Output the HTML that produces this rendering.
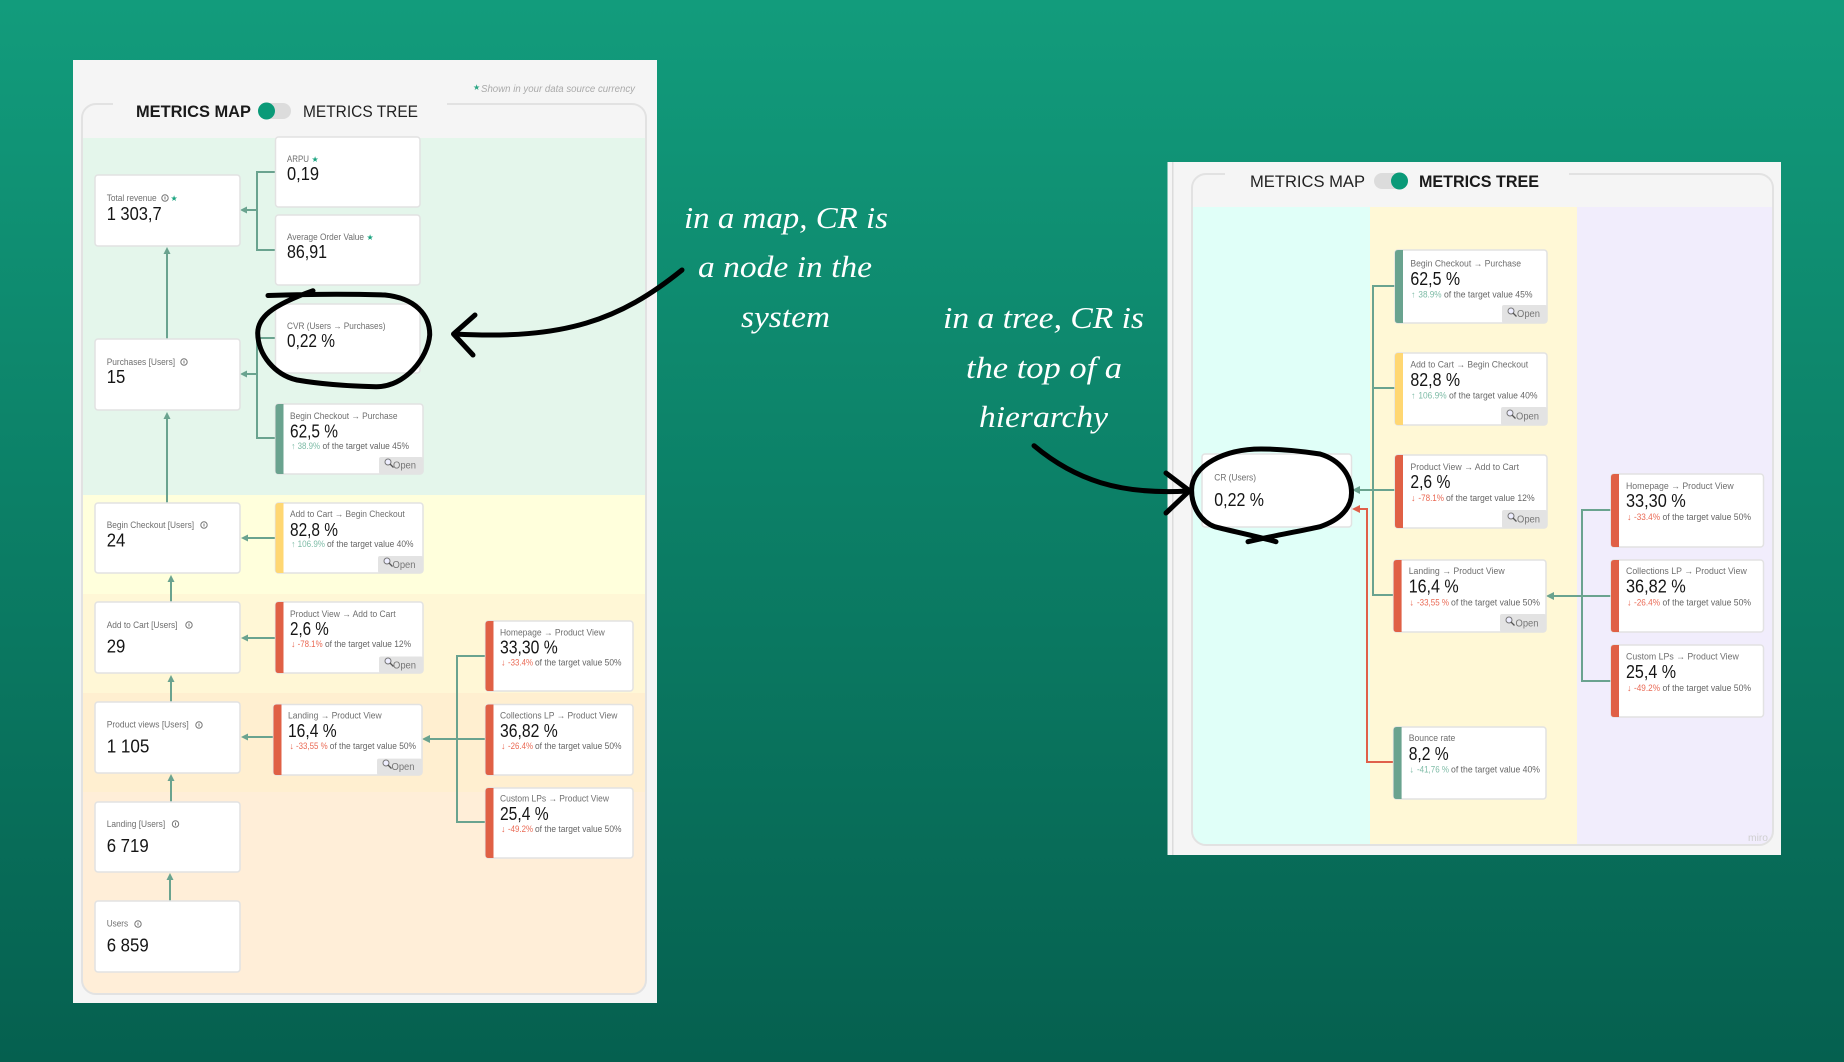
<!DOCTYPE html>
<html lang="en"><head><meta charset="utf-8"><title>Metrics map vs metrics tree</title>
<style>
html,body{margin:0;padding:0;width:1844px;height:1062px;overflow:hidden;background:#0b7f66}
svg{display:block;position:absolute;left:0;top:0}
text{font-family:"Liberation Sans",sans-serif}
.p{filter:blur(.35px)}
.l{font-size:9px;fill:#6f6f6f}
.v{font-size:18px;fill:#151515}
.s{font-size:9px;fill:#666}
.g{font-size:9px;fill:#7dbba6}
.r{font-size:9px;fill:#ea6a55}
.o{font-size:10.5px;fill:#777}
.st{font-size:8px;fill:#1aa37f}
.c{fill:#fff;stroke:#e2e2e2;stroke-width:1.5}
.ln{fill:none;stroke:#6aa38f;stroke-width:2}
.rd{fill:none;stroke:#e0604a;stroke-width:2}
.ah{fill:#6aa38f}
.bk{fill:none;stroke:#000;stroke-width:5;stroke-linecap:round;stroke-linejoin:round}
.h{font-family:"Liberation Serif",serif;font-style:italic;font-size:31px;fill:#fff}
.m{font-size:17px;fill:#222}
.mb{font-size:17px;fill:#1a1a1a;font-weight:bold}
.btn{fill:#e3e3e3}
</style></head><body>
<svg width="1844" height="1062" viewBox="0 0 1844 1062" xmlns="http://www.w3.org/2000/svg">
<defs>
<linearGradient id="bg" x1="0" y1="0" x2="0" y2="1"><stop offset="0" stop-color="#129c7c"/><stop offset="1" stop-color="#05604f"/></linearGradient>
<clipPath id="cpL"><rect x="82" y="104" width="564" height="890" rx="14"/></clipPath>
<clipPath id="cpR"><rect x="1192" y="174" width="581" height="671" rx="14"/></clipPath>
<g id="inf"><circle cx="0" cy="0" r="3.2" fill="none" stroke="#777" stroke-width="1"/><path d="M0-1.5V1.5" stroke="#777" stroke-width="1"/></g>
<g id="mag"><circle cx="0" cy="0" r="3" fill="#eef" stroke="#777" stroke-width="1"/><path d="M2 2L5.5 5.5" stroke="#555" stroke-width="1.3"/></g>
</defs>
<rect width="1844" height="1062" fill="url(#bg)"/>

<!-- LEFT PANEL -->
<g class="p">
<rect x="73" y="60" width="584" height="943" fill="#f5f5f5"/>
<rect x="82" y="104" width="564" height="890" rx="14" fill="#f5f5f5"/>
<g clip-path="url(#cpL)">
<rect x="82" y="138" width="564" height="357" fill="#e4f6eb"/>
<rect x="82" y="495" width="564" height="99" fill="#ffffdc"/>
<rect x="82" y="594" width="564" height="99" fill="#fff7d6"/>
<rect x="82" y="693" width="564" height="99" fill="#ffefd0"/>
<rect x="82" y="792" width="564" height="202" fill="#ffeed8"/>
</g>
<rect x="82" y="104" width="564" height="890" rx="14" fill="none" stroke="#e2e2e2" stroke-width="2"/>
<rect x="113" y="96" width="334" height="30" fill="#f5f5f5"/>
<text x="473" y="90" font-size="8" fill="#2aa583">★</text>
<text x="481" y="92" font-size="10" font-style="italic" fill="#aaa" textLength="154" lengthAdjust="spacingAndGlyphs">Shown in your data source currency</text>
<text class="mb" x="136" y="117" textLength="115" lengthAdjust="spacingAndGlyphs">METRICS MAP</text>
<rect x="260" y="103" width="31" height="16" rx="8" fill="#dcdcdc"/>
<circle cx="266.500" cy="111" r="8.500" fill="#0a9a78"/>
<text class="m" x="303" y="117" textLength="115" lengthAdjust="spacingAndGlyphs">METRICS TREE</text>

<!-- connectors -->
<path class="ln" d="M275 172H257V250H275M257 210H245"/><polygon class="ah" points="240,210 247,206.500 247,213.500"/>
<path class="ln" d="M275 338H257V438H275M257 374H245"/><polygon class="ah" points="240,374 247,370.500 247,377.500"/>
<path class="ln" d="M167 339V252"/><polygon class="ah" points="167,247 163.500,254 170.500,254"/>
<path class="ln" d="M167 503V417"/><polygon class="ah" points="167,412 163.500,419 170.500,419"/>
<path class="ln" d="M171 602V580"/><polygon class="ah" points="171,575 167.500,582 174.500,582"/>
<path class="ln" d="M171 702V680"/><polygon class="ah" points="171,675 167.500,682 174.500,682"/>
<path class="ln" d="M171 802V779"/><polygon class="ah" points="171,774 167.500,781 174.500,781"/>
<path class="ln" d="M170 901V878"/><polygon class="ah" points="170,873 166.500,880 173.500,880"/>
<path class="ln" d="M275 538H246"/><polygon class="ah" points="241,538 248,534.500 248,541.500"/>
<path class="ln" d="M275 638H246"/><polygon class="ah" points="241,638 248,634.500 248,641.500"/>
<path class="ln" d="M273 737H246"/><polygon class="ah" points="241,737 248,733.500 248,740.500"/>
<path class="ln" d="M485 656H457V822H485M485 739H427"/><polygon class="ah" points="422,739 430,735 430,743"/>

<!-- plain cards -->
<rect class="c" x="275.500" y="137" width="144.500" height="70" rx="3"/>
<text class="l" x="287" y="162" textLength="22" lengthAdjust="spacingAndGlyphs">ARPU</text><text class="st" x="311.500" y="162">★</text>
<text class="v" x="287" y="180" textLength="32" lengthAdjust="spacingAndGlyphs">0,19</text>

<rect class="c" x="95" y="175" width="145" height="71" rx="3"/>
<text class="l" x="106.700" y="201" textLength="50" lengthAdjust="spacingAndGlyphs">Total revenue</text><use href="#inf" x="165" y="198"/><text class="st" x="170.500" y="201">★</text>
<text class="v" x="106.700" y="220" textLength="55" lengthAdjust="spacingAndGlyphs">1 303,7</text>

<rect class="c" x="275.500" y="215" width="144.500" height="70" rx="3"/>
<text class="l" x="287" y="240" textLength="77" lengthAdjust="spacingAndGlyphs">Average Order Value</text><text class="st" x="366.500" y="240">★</text>
<text class="v" x="287" y="258" textLength="40" lengthAdjust="spacingAndGlyphs">86,91</text>

<rect class="c" x="275.500" y="304" width="144.500" height="69" rx="3"/>
<text class="l" x="287" y="329" textLength="98.500" lengthAdjust="spacingAndGlyphs">CVR (Users → Purchases)</text>
<text class="v" x="287" y="347" textLength="48" lengthAdjust="spacingAndGlyphs">0,22 %</text>

<rect class="c" x="95" y="339" width="145" height="71" rx="3"/>
<text class="l" x="106.700" y="365" textLength="68.400" lengthAdjust="spacingAndGlyphs">Purchases [Users]</text><use href="#inf" x="184" y="362"/>
<text class="v" x="106.700" y="383" textLength="18.600" lengthAdjust="spacingAndGlyphs">15</text>

<rect class="c" x="95" y="503" width="145" height="70" rx="3"/>
<text class="l" x="106.700" y="528" textLength="87.400" lengthAdjust="spacingAndGlyphs">Begin Checkout [Users]</text><use href="#inf" x="204" y="525"/>
<text class="v" x="106.700" y="546.500" textLength="18.600" lengthAdjust="spacingAndGlyphs">24</text>

<rect class="c" x="95" y="602" width="145" height="71" rx="3"/>
<text class="l" x="106.700" y="628" textLength="70.800" lengthAdjust="spacingAndGlyphs">Add to Cart [Users]</text><use href="#inf" x="189" y="625"/>
<text class="v" x="106.700" y="652.400" textLength="18.600" lengthAdjust="spacingAndGlyphs">29</text>

<rect class="c" x="95" y="702" width="145" height="71" rx="3"/>
<text class="l" x="106.700" y="727.600" textLength="82" lengthAdjust="spacingAndGlyphs">Product views [Users]</text><use href="#inf" x="199" y="725"/>
<text class="v" x="106.700" y="752.400" textLength="42.700" lengthAdjust="spacingAndGlyphs">1 105</text>

<rect class="c" x="95" y="802" width="145" height="70" rx="3"/>
<text class="l" x="106.700" y="827" textLength="58.500" lengthAdjust="spacingAndGlyphs">Landing [Users]</text><use href="#inf" x="175.500" y="824"/>
<text class="v" x="106.700" y="852" textLength="42" lengthAdjust="spacingAndGlyphs">6 719</text>

<rect class="c" x="95" y="901" width="145" height="71" rx="3"/>
<text class="l" x="106.700" y="926.500" textLength="21.400" lengthAdjust="spacingAndGlyphs">Users</text><use href="#inf" x="138" y="924"/>
<text class="v" x="106.700" y="951.700" textLength="42" lengthAdjust="spacingAndGlyphs">6 859</text>

<!-- Begin Checkout -> Purchase -->
<rect class="c" x="275.500" y="404" width="147.500" height="70" rx="3"/><path d="M283.500 404H278.500Q275.500 404 275.500 407V471Q275.500 474 278.500 474H283.500Z" fill="#6aa38f"/>
<text class="l" x="290" y="419" textLength="107.500" lengthAdjust="spacingAndGlyphs">Begin Checkout → Purchase</text>
<text class="v" x="290" y="437.700" textLength="48" lengthAdjust="spacingAndGlyphs">62,5 %</text>
<text class="g" x="291" y="449">↑</text>
<text class="g" x="297.600" y="449" textLength="22.400" lengthAdjust="spacingAndGlyphs">38.9%</text>
<text class="s" x="322.500" y="449" textLength="86.500" lengthAdjust="spacingAndGlyphs">of the target value 45%</text>
<rect class="btn" x="379" y="457" width="44" height="17" rx="2"/><use href="#mag" x="388" y="462"/><text class="o" x="393" y="468.700" textLength="23" lengthAdjust="spacingAndGlyphs">Open</text>

<!-- Add to Cart -> Begin Checkout -->
<rect class="c" x="275.500" y="503" width="147.500" height="70" rx="3"/><path d="M283.500 503H278.500Q275.500 503 275.500 506V570Q275.500 573 278.500 573H283.500Z" fill="#ffd772"/>
<text class="l" x="290" y="517" textLength="114.700" lengthAdjust="spacingAndGlyphs">Add to Cart → Begin Checkout</text>
<text class="v" x="290" y="536" textLength="48" lengthAdjust="spacingAndGlyphs">82,8 %</text>
<text class="g" x="291" y="547">↑</text>
<text class="g" x="297.600" y="547" textLength="27.400" lengthAdjust="spacingAndGlyphs">106.9%</text>
<text class="s" x="327" y="547" textLength="86.500" lengthAdjust="spacingAndGlyphs">of the target value 40%</text>
<rect class="btn" x="378" y="556" width="45" height="17" rx="2"/><use href="#mag" x="387" y="561"/><text class="o" x="392.500" y="568" textLength="23" lengthAdjust="spacingAndGlyphs">Open</text>

<!-- Product View -> Add to Cart -->
<rect class="c" x="275.500" y="602" width="147.500" height="71" rx="3"/><path d="M283.500 602H278.500Q275.500 602 275.500 605V670Q275.500 673 278.500 673H283.500Z" fill="#e06045"/>
<text class="l" x="290" y="617" textLength="105.600" lengthAdjust="spacingAndGlyphs">Product View → Add to Cart</text>
<text class="v" x="290" y="635" textLength="38.800" lengthAdjust="spacingAndGlyphs">2,6 %</text>
<text class="r" x="291" y="647">↓</text>
<text class="r" x="297.600" y="647" textLength="25" lengthAdjust="spacingAndGlyphs">-78.1%</text>
<text class="s" x="325" y="647" textLength="86" lengthAdjust="spacingAndGlyphs">of the target value 12%</text>
<rect class="btn" x="379" y="656.500" width="44" height="16.500" rx="2"/><use href="#mag" x="388" y="661"/><text class="o" x="393" y="668.600" textLength="23" lengthAdjust="spacingAndGlyphs">Open</text>

<!-- Landing -> Product View -->
<rect class="c" x="273.500" y="704.500" width="148.500" height="70.500" rx="3"/><path d="M281.500 704.500H276.500Q273.500 704.500 273.500 707.500V772Q273.500 775 276.500 775H281.500Z" fill="#e06045"/>
<text class="l" x="288" y="718.600" textLength="93.700" lengthAdjust="spacingAndGlyphs">Landing → Product View</text>
<text class="v" x="288" y="737" textLength="48.600" lengthAdjust="spacingAndGlyphs">16,4 %</text>
<text class="r" x="289.500" y="749">↓</text>
<text class="r" x="296" y="749" textLength="31.700" lengthAdjust="spacingAndGlyphs">-33,55 %</text>
<text class="s" x="329.700" y="749" textLength="86.300" lengthAdjust="spacingAndGlyphs">of the target value 50%</text>
<rect class="btn" x="377" y="758.600" width="45" height="16.400" rx="2"/><use href="#mag" x="386" y="763"/><text class="o" x="391.500" y="770" textLength="23" lengthAdjust="spacingAndGlyphs">Open</text>

<!-- Homepage -->
<rect class="c" x="485.500" y="621" width="147.500" height="70" rx="3"/><path d="M493.500 621H488.500Q485.500 621 485.500 624V688Q485.500 691 488.500 691H493.500Z" fill="#e06045"/>
<text class="l" x="500" y="635.500" textLength="104.800" lengthAdjust="spacingAndGlyphs">Homepage → Product View</text>
<text class="v" x="500" y="653.400" textLength="57.700" lengthAdjust="spacingAndGlyphs">33,30 %</text>
<text class="r" x="501" y="665.500">↓</text>
<text class="r" x="508" y="665.500" textLength="25" lengthAdjust="spacingAndGlyphs">-33.4%</text>
<text class="s" x="535" y="665.500" textLength="86.500" lengthAdjust="spacingAndGlyphs">of the target value 50%</text>

<!-- Collections -->
<rect class="c" x="485.500" y="704.500" width="147.500" height="70.500" rx="3"/><path d="M493.500 704.500H488.500Q485.500 704.500 485.500 707.500V772Q485.500 775 488.500 775H493.500Z" fill="#e06045"/>
<text class="l" x="500" y="718.600" textLength="117.400" lengthAdjust="spacingAndGlyphs">Collections LP → Product View</text>
<text class="v" x="500" y="737" textLength="57.700" lengthAdjust="spacingAndGlyphs">36,82 %</text>
<text class="r" x="501" y="749">↓</text>
<text class="r" x="508" y="749" textLength="25" lengthAdjust="spacingAndGlyphs">-26.4%</text>
<text class="s" x="535" y="749" textLength="86.500" lengthAdjust="spacingAndGlyphs">of the target value 50%</text>

<!-- Custom -->
<rect class="c" x="485.500" y="788" width="147.500" height="70" rx="3"/><path d="M493.500 788H488.500Q485.500 788 485.500 791V855Q485.500 858 488.500 858H493.500Z" fill="#e06045"/>
<text class="l" x="500" y="801.700" textLength="109" lengthAdjust="spacingAndGlyphs">Custom LPs → Product View</text>
<text class="v" x="500" y="820" textLength="48.600" lengthAdjust="spacingAndGlyphs">25,4 %</text>
<text class="r" x="501" y="832">↓</text>
<text class="r" x="508" y="832" textLength="25" lengthAdjust="spacingAndGlyphs">-49.2%</text>
<text class="s" x="535" y="832" textLength="86.500" lengthAdjust="spacingAndGlyphs">of the target value 50%</text>
</g>

<!-- RIGHT PANEL -->
<g class="p">
<rect x="1167.500" y="162" width="613.500" height="693" fill="#f5f5f5"/>
<rect x="1172" y="162" width="1.500" height="693" fill="#dcdcdc"/>
<rect x="1192" y="174" width="581" height="671" rx="14" fill="#f5f5f5"/>
<g clip-path="url(#cpR)">
<rect x="1192" y="207" width="178" height="638" fill="#e0fff8"/>
<rect x="1370" y="207" width="207" height="638" fill="#fff8d6"/>
<rect x="1577" y="207" width="196" height="638" fill="#f1edfc"/>
</g>
<rect x="1192" y="174" width="581" height="671" rx="14" fill="none" stroke="#e2e2e2" stroke-width="2"/>
<rect x="1225" y="166" width="344" height="30" fill="#f5f5f5"/>
<text class="m" x="1250" y="187" textLength="115" lengthAdjust="spacingAndGlyphs">METRICS MAP</text>
<rect x="1374" y="173" width="34" height="16" rx="8" fill="#dcdcdc"/>
<circle cx="1399.500" cy="181" r="8.500" fill="#0a9a78"/>
<text class="mb" x="1419" y="187" textLength="120" lengthAdjust="spacingAndGlyphs">METRICS TREE</text>
<text x="1748" y="841" font-size="10" fill="#cfcfcf" textLength="20" lengthAdjust="spacingAndGlyphs">miro</text>

<!-- connectors -->
<path class="rd" d="M1393 762H1367V509H1357"/><polygon fill="#e0604a" points="1352,509 1360,505 1360,513"/>
<path class="ln" d="M1395 286H1373V595H1393M1395 388H1373M1395 490H1357"/><polygon class="ah" points="1352,490 1360,486 1360,494"/>
<path class="ln" d="M1611 510H1582V681H1611M1611 596H1551"/><polygon class="ah" points="1546,596 1554,592 1554,600"/>

<!-- CR -->
<rect class="c" x="1202" y="454" width="149.500" height="73" rx="3"/>
<text class="l" x="1214.300" y="480.700" textLength="41.700" lengthAdjust="spacingAndGlyphs">CR (Users)</text>
<text class="v" x="1214.300" y="506" textLength="49.700" lengthAdjust="spacingAndGlyphs">0,22 %</text>

<!-- Begin Checkout -->
<rect class="c" x="1395" y="250" width="152" height="73" rx="3"/><path d="M1403 250H1398Q1395 250 1395 253V320Q1395 323 1398 323H1403Z" fill="#6aa38f"/>
<text class="l" x="1410.400" y="266.700" textLength="110.700" lengthAdjust="spacingAndGlyphs">Begin Checkout → Purchase</text>
<text class="v" x="1410.400" y="285" textLength="49.700" lengthAdjust="spacingAndGlyphs">62,5 %</text>
<text class="g" x="1411" y="297.700">↑</text>
<text class="g" x="1418.400" y="297.700" textLength="23.200" lengthAdjust="spacingAndGlyphs">38.9%</text>
<text class="s" x="1444" y="297.700" textLength="88.500" lengthAdjust="spacingAndGlyphs">of the target value 45%</text>
<rect class="btn" x="1502" y="305" width="45" height="18" rx="2"/><use href="#mag" x="1511" y="311"/><text class="o" x="1517" y="317" textLength="23" lengthAdjust="spacingAndGlyphs">Open</text>

<!-- Add to Cart -->
<rect class="c" x="1395" y="353" width="152" height="72" rx="3"/><path d="M1403 353H1398Q1395 353 1395 356V422Q1395 425 1398 425H1403Z" fill="#ffd772"/>
<text class="l" x="1410.400" y="367.700" textLength="117.800" lengthAdjust="spacingAndGlyphs">Add to Cart → Begin Checkout</text>
<text class="v" x="1410.400" y="386" textLength="49.700" lengthAdjust="spacingAndGlyphs">82,8 %</text>
<text class="g" x="1411" y="398.700">↑</text>
<text class="g" x="1418.400" y="398.700" textLength="28.200" lengthAdjust="spacingAndGlyphs">106.9%</text>
<text class="s" x="1449" y="398.700" textLength="88.500" lengthAdjust="spacingAndGlyphs">of the target value 40%</text>
<rect class="btn" x="1501" y="407" width="46" height="18" rx="2"/><use href="#mag" x="1510" y="413"/><text class="o" x="1516" y="419.700" textLength="23" lengthAdjust="spacingAndGlyphs">Open</text>

<!-- Product View -->
<rect class="c" x="1395" y="455" width="152" height="73" rx="3"/><path d="M1403 455H1398Q1395 455 1395 458V525Q1395 528 1398 528H1403Z" fill="#e06045"/>
<text class="l" x="1410.400" y="470" textLength="108.600" lengthAdjust="spacingAndGlyphs">Product View → Add to Cart</text>
<text class="v" x="1410.400" y="488" textLength="40" lengthAdjust="spacingAndGlyphs">2,6 %</text>
<text class="r" x="1411" y="501">↓</text>
<text class="r" x="1418.400" y="501" textLength="25.600" lengthAdjust="spacingAndGlyphs">-78.1%</text>
<text class="s" x="1446" y="501" textLength="88.600" lengthAdjust="spacingAndGlyphs">of the target value 12%</text>
<rect class="btn" x="1502" y="510" width="45" height="18" rx="2"/><use href="#mag" x="1511" y="516"/><text class="o" x="1517" y="522.700" textLength="23" lengthAdjust="spacingAndGlyphs">Open</text>

<!-- Landing -->
<rect class="c" x="1393.600" y="560" width="152.400" height="72" rx="3"/><path d="M1401.600 560H1396.600Q1393.600 560 1393.600 563V629Q1393.600 632 1396.600 632H1401.600Z" fill="#e06045"/>
<text class="l" x="1408.700" y="574" textLength="96" lengthAdjust="spacingAndGlyphs">Landing → Product View</text>
<text class="v" x="1408.700" y="592.700" textLength="50" lengthAdjust="spacingAndGlyphs">16,4 %</text>
<text class="r" x="1409.500" y="605.700">↓</text>
<text class="r" x="1417" y="605.700" textLength="32" lengthAdjust="spacingAndGlyphs">-33,55 %</text>
<text class="s" x="1451" y="605.700" textLength="89" lengthAdjust="spacingAndGlyphs">of the target value 50%</text>
<rect class="btn" x="1500" y="614" width="46" height="18" rx="2"/><use href="#mag" x="1509" y="620"/><text class="o" x="1515.500" y="626.700" textLength="23" lengthAdjust="spacingAndGlyphs">Open</text>

<!-- Bounce -->
<rect class="c" x="1393.600" y="727" width="152.400" height="72" rx="3"/><path d="M1401.600 727H1396.600Q1393.600 727 1393.600 730V796Q1393.600 799 1396.600 799H1401.600Z" fill="#6aa38f"/>
<text class="l" x="1408.700" y="741" textLength="46.700" lengthAdjust="spacingAndGlyphs">Bounce rate</text>
<text class="v" x="1408.700" y="760" textLength="40" lengthAdjust="spacingAndGlyphs">8,2 %</text>
<text class="g" x="1409.500" y="772.700">↓</text>
<text class="g" x="1417" y="772.700" textLength="32" lengthAdjust="spacingAndGlyphs">-41,76 %</text>
<text class="s" x="1451" y="772.700" textLength="89" lengthAdjust="spacingAndGlyphs">of the target value 40%</text>

<!-- Homepage -->
<rect class="c" x="1611" y="474" width="152.500" height="73" rx="3"/><path d="M1619 474H1614Q1611 474 1611 477V544Q1611 547 1614 547H1619Z" fill="#e06045"/>
<text class="l" x="1626" y="489" textLength="107.700" lengthAdjust="spacingAndGlyphs">Homepage → Product View</text>
<text class="v" x="1626" y="507" textLength="59.800" lengthAdjust="spacingAndGlyphs">33,30 %</text>
<text class="r" x="1627" y="520">↓</text>
<text class="r" x="1634" y="520" textLength="26" lengthAdjust="spacingAndGlyphs">-33.4%</text>
<text class="s" x="1662.500" y="520" textLength="88.500" lengthAdjust="spacingAndGlyphs">of the target value 50%</text>

<!-- Collections -->
<rect class="c" x="1611" y="560" width="152.500" height="72" rx="3"/><path d="M1619 560H1614Q1611 560 1611 563V629Q1611 632 1614 632H1619Z" fill="#e06045"/>
<text class="l" x="1626" y="574" textLength="120.800" lengthAdjust="spacingAndGlyphs">Collections LP → Product View</text>
<text class="v" x="1626" y="592.700" textLength="59.800" lengthAdjust="spacingAndGlyphs">36,82 %</text>
<text class="r" x="1627" y="605.700">↓</text>
<text class="r" x="1634" y="605.700" textLength="26" lengthAdjust="spacingAndGlyphs">-26.4%</text>
<text class="s" x="1662.500" y="605.700" textLength="88.500" lengthAdjust="spacingAndGlyphs">of the target value 50%</text>

<!-- Custom -->
<rect class="c" x="1611" y="645" width="152.500" height="72" rx="3"/><path d="M1619 645H1614Q1611 645 1611 648V714Q1611 717 1614 717H1619Z" fill="#e06045"/>
<text class="l" x="1626" y="659.700" textLength="112.800" lengthAdjust="spacingAndGlyphs">Custom LPs → Product View</text>
<text class="v" x="1626" y="678" textLength="50" lengthAdjust="spacingAndGlyphs">25,4 %</text>
<text class="r" x="1627" y="691">↓</text>
<text class="r" x="1634" y="691" textLength="26" lengthAdjust="spacingAndGlyphs">-49.2%</text>
<text class="s" x="1662.500" y="691" textLength="88.500" lengthAdjust="spacingAndGlyphs">of the target value 50%</text>
</g>

<!-- hand-written annotations -->
<text class="h" x="684" y="228" textLength="204" lengthAdjust="spacingAndGlyphs">in a map, CR is</text>
<text class="h" x="698" y="277" textLength="174" lengthAdjust="spacingAndGlyphs">a node in the</text>
<text class="h" x="741" y="327" textLength="89" lengthAdjust="spacingAndGlyphs">system</text>
<text class="h" x="943" y="328" textLength="201" lengthAdjust="spacingAndGlyphs">in a tree, CR is</text>
<text class="h" x="966" y="378" textLength="156" lengthAdjust="spacingAndGlyphs">the top of a</text>
<text class="h" x="979" y="427" textLength="129" lengthAdjust="spacingAndGlyphs">hierarchy</text>

<!-- sketch strokes -->
<path class="bk" d="M268 295.500C310 294 355 294 385 295C415 298 430 315 429.700 335C428 358 405 387 376 386.700C345 386 320 384 297 380C275 375 258 355 257.700 333C258 318 270 306 313 290.700"/>
<path class="bk" d="M682 270C620 320 565 340 455 334"/>
<path class="bk" d="M475 315L453.500 334L473 355"/>
<path class="bk" d="M1248 541.700C1272 536 1296 532 1320 526.700C1340 520 1351.500 508 1351.500 493C1351.500 475 1340 460 1320 454C1300 451 1280 449 1261 449C1225 449 1192 465 1191.600 490C1191.500 508 1202 522 1214.700 526.700C1235 532 1256 536 1276 541.700"/>
<path class="bk" d="M1034 445.700C1075 480 1120 495 1188 491"/>
<path class="bk" d="M1166 473L1189.500 490.700L1166 513"/>
</svg>
</body></html>
